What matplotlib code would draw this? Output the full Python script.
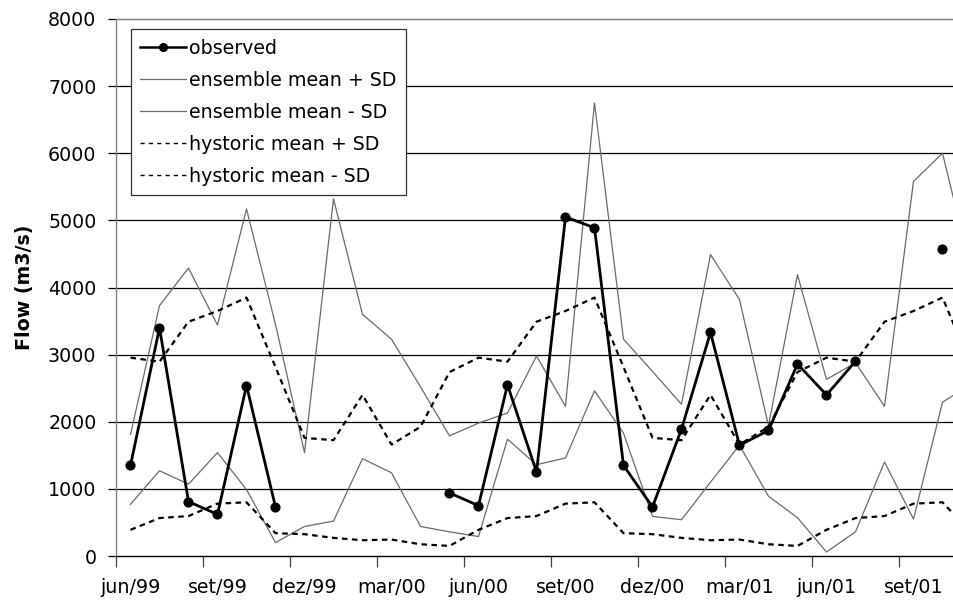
import numpy as np
import matplotlib
matplotlib.use("Agg")
import matplotlib.pyplot as plt
from matplotlib.lines import Line2D

nan = np.nan

# Monthly categories, jun/99 .. nov/01
months = ["jun/99", "jul/99", "ago/99", "set/99", "out/99", "nov/99",
          "dez/99", "jan/00", "fev/00", "mar/00", "abr/00", "mai/00",
          "jun/00", "jul/00", "ago/00", "set/00", "out/00", "nov/00",
          "dez/00", "jan/01", "fev/01", "mar/01", "abr/01", "mai/01",
          "jun/01", "jul/01", "ago/01", "set/01", "out/01", "nov/01"]

observed = [1350, 3400, 810, 620, 2540, 730, nan, nan, nan, nan, nan, 940,
            750, 2550, 1250, 5050, 4890, 1350, 730, 1890, 3330, 1650, 1870, 2860,
            2400, 2900, nan, nan, 4580, nan]

ens_plus = [1810, 3730, 4290, 3440, 5170, 3450, 1540, 5320, 3600, 3230, 2520, 1790,
            1980, 2130, 2980, 2230, 6750, 3230, 2750, 2260, 4490, 3820, 1940, 4190,
            2630, 2880, 2230, 5580, 6000, 4230]

ens_minus = [770, 1270, 1070, 1540, 990, 200, 440, 520, 1450, 1240, 440, 360,
             290, 1740, 1360, 1460, 2460, 1830, 590, 540, 1100, 1650, 890, 570,
             60, 360, 1400, 550, 2290, 2570]

hist_plus = [2955, 2895, 3490, 3650, 3850, 2815, 1760, 1725, 2400, 1660, 1925, 2740,
             2955, 2895, 3490, 3650, 3850, 2815, 1760, 1725, 2400, 1660, 1925, 2740,
             2955, 2895, 3490, 3650, 3850, 2815]

hist_minus = [390, 565, 595, 780, 800, 340, 325, 270, 235, 245, 175, 150,
              390, 565, 595, 780, 800, 340, 325, 270, 235, 245, 175, 150,
              390, 565, 595, 780, 800, 340]

label_every = 3
y_ticks = [0, 1000, 2000, 3000, 4000, 5000, 6000, 7000, 8000]

plt.rcParams["font.family"] = ["DejaVu Sans"]
FS = 13.7

fig = plt.figure(figsize=(9.54, 6.08), dpi=100)
n = len(months)
ax = fig.add_axes([116 / 954, 1 - 556 / 608, (29 * n) / 954, 537 / 608])

x = np.arange(n)
grey = "#6a6a6a"
dash = (2.5, 2.0)

ax.plot(x, ens_plus, color=grey, lw=0.9, zorder=3)
ax.plot(x, ens_minus, color=grey, lw=0.9, zorder=3)
ax.plot(x, hist_plus, color="black", lw=1.6, dashes=dash, zorder=3)
ax.plot(x, hist_minus, color="black", lw=1.6, dashes=dash, zorder=3)
ax.plot(x, observed, color="black", lw=2.0, marker="o", markersize=6.3,
        zorder=4)

ax.set_xlim(-0.5, n - 0.5)
ax.set_ylim(0, 8000)

# horizontal gridlines
for v in y_ticks[1:-1]:
    ax.axhline(v, color="black", lw=0.9, zorder=1)

ax.set_yticks(y_ticks)
ax.set_yticklabels([str(v) for v in y_ticks], fontsize=FS)
ax.set_xticks(np.arange(0, n, label_every))
ax.set_xticklabels(months[::label_every], fontsize=FS)
ax.set_xticks(np.arange(-0.5, n, label_every), minor=True)
ax.tick_params(axis="x", which="major", length=0, pad=16)
ax.tick_params(axis="x", which="minor", length=8, width=0.9, color="#404040")
ax.tick_params(axis="y", length=6, width=0.9, color="black", pad=8)

ax.spines["right"].set_visible(False)
ax.spines["left"].set_color("#808080")
ax.spines["left"].set_linewidth(1.0)
ax.spines["top"].set_color("#7a7a6a")
ax.spines["top"].set_linewidth(1.0)
ax.spines["bottom"].set_color("black")
ax.spines["bottom"].set_linewidth(1.0)

ax.set_ylabel("Flow (m3/s)", fontsize=FS, fontweight="bold", labelpad=10)

handles = [
    Line2D([], [], color="black", lw=1.8, marker="o", markersize=5.5),
    Line2D([], [], color=grey, lw=0.9),
    Line2D([], [], color=grey, lw=0.9),
    Line2D([], [], color="black", lw=1.0, dashes=(3, 3)),
    Line2D([], [], color="black", lw=1.0, dashes=(3, 3)),
]
labels = ["observed", "ensemble mean + SD", "ensemble mean - SD",
          "hystoric mean + SD", "hystoric mean - SD"]
ax_w = 29 * n
leg = ax.legend(handles, labels, loc="upper left",
                bbox_to_anchor=((130.7 - 116) / ax_w, 1 - (29.3 - 19) / 537),
                borderaxespad=0, fontsize=FS, frameon=True, fancybox=False,
                edgecolor="#303030", framealpha=1, handlelength=2.4,
                handletextpad=0.15, labelspacing=0.68, borderpad=0.5)
leg.get_frame().set_linewidth(0.9)
leg.set_zorder(10)

fig.savefig("out.png", dpi=100)
